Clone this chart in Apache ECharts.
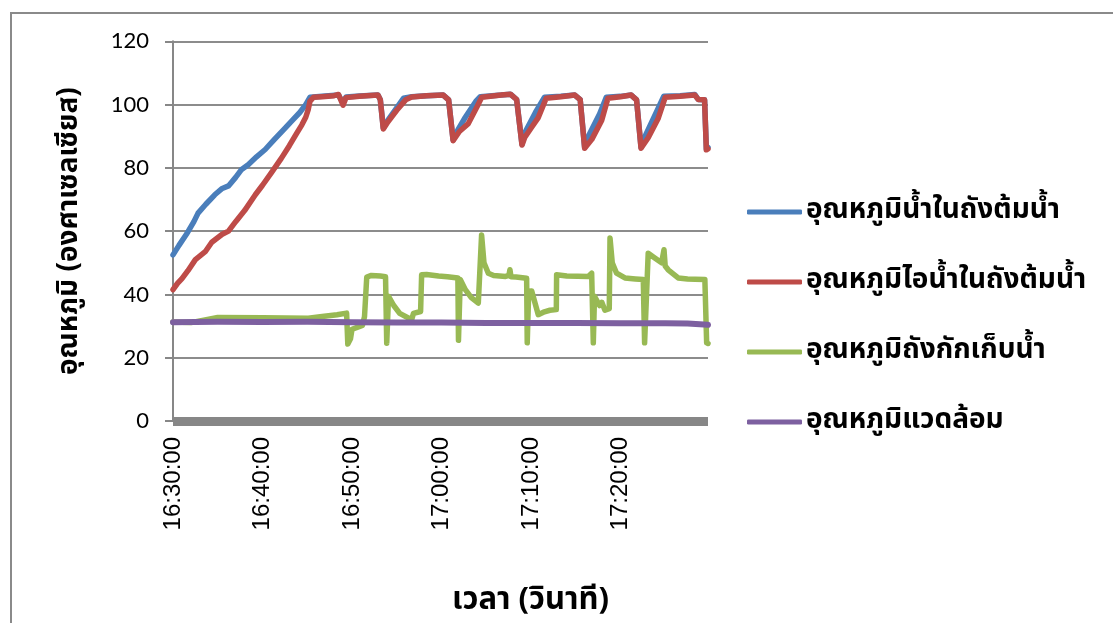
<!DOCTYPE html>
<html>
<head>
<meta charset="utf-8">
<script src="https://cdn.jsdelivr.net/npm/echarts@6/dist/echarts.min.js"></script>
<style>
html,body{margin:0;padding:0;background:#fff;}
#chart{width:1113px;height:623px;}
</style>
</head>
<body>
<div id="chart"></div>
<script>
// times are seconds after 16:30:00
const seriesNames = ['อุณหภูมิน้ำในถังต้มน้ำ','อุณหภูมิไอน้ำในถังต้มน้ำ','อุณหภูมิถังกักเก็บน้ำ','อุณหภูมิแวดล้อม'];
const xTitle = 'เวลา (วินาที)';
const yTitle = 'อุณหภูมิ (องศาเซลเซียส)';
const startHour = 16, startMin = 30;

const waterTemp = [[0,52.5],[40,55.5],[90,59],[140,63],[168,65.7],[220,68.5],[280,71.5],[330,73.5],[372,74.3],[420,77],[460,79.5],[504,81],[560,83.5],[618,85.8],[680,89],[750,92.5],[800,95],[850,97.5],[890,100],[918,102.3],[960,102.5],[1020,102.7],[1110,103],[1140,100.5],[1160,102.4],[1250,102.7],[1374,103],[1390,101.5],[1410,92.6],[1440,95],[1500,99],[1545,102],[1600,102.5],[1700,102.8],[1812,103],[1848,101.5],[1878,88.8],[1910,92],[1960,96],[2030,101],[2060,102.5],[2200,103],[2262,103.3],[2304,101.6],[2340,87.4],[2358,91],[2430,97.5],[2490,102.3],[2600,102.6],[2694,103],[2730,101.6],[2760,86.4],[2790,90.5],[2860,97],[2905,102.3],[3000,102.6],[3072,103],[3108,101.5],[3138,86.4],[3170,90.5],[3240,97.5],[3290,102.6],[3400,102.8],[3498,103.2],[3522,101.6],[3564,101.5],[3576,86],[3587,86.5]];
const steamTemp = [[0,41.5],[30,43.5],[60,45],[100,47.5],[150,51],[216,53.5],[260,56.5],[330,59],[372,60],[420,63],[480,66.5],[552,71.5],[600,74.5],[660,78.5],[726,83],[780,87],[830,91],[864,93.6],[890,96],[906,98.3],[918,101],[942,102.3],[1000,102.5],[1080,102.8],[1110,103.2],[1140,99.8],[1160,102.2],[1250,102.6],[1374,103],[1390,101.5],[1410,92.3],[1440,94.5],[1500,98.2],[1560,101.5],[1600,102.4],[1700,102.8],[1812,103],[1848,101.5],[1878,88.6],[1920,91.5],[1980,94],[2040,99.5],[2070,102.3],[2200,103],[2262,103.3],[2304,101.6],[2340,87.2],[2358,89.6],[2400,92.5],[2448,95.8],[2502,102],[2600,102.5],[2694,103],[2730,101.6],[2760,86.2],[2808,89],[2874,95],[2916,102],[3000,102.5],[3072,103],[3108,101.5],[3138,86.2],[3186,89.5],[3252,95.5],[3300,102.3],[3400,102.6],[3498,103],[3522,101.6],[3564,101.5],[3576,85.7],[3587,86]];
const tankTemp = [[0,31.3],[120,31.1],[300,32.7],[600,32.6],[907,32.5],[1000,33],[1100,33.6],[1164,34.1],[1172,24.3],[1190,26],[1200,29],[1230,29.5],[1270,30.2],[1284,33],[1294,33.5],[1299,45.5],[1330,46],[1390,45.8],[1425,45.6],[1433,24.6],[1440,25],[1445,39.4],[1480,36.5],[1520,34],[1600,32],[1612,34],[1660,34.6],[1667,46.2],[1700,46.3],[1780,45.8],[1840,45.6],[1910,45.2],[1914,25.5],[1922,26],[1926,44.7],[1960,41.5],[2000,39],[2047,37.3],[2069,58.8],[2085,50],[2114,46.7],[2150,46],[2230,45.7],[2252,46],[2259,47.8],[2266,45.6],[2300,45.5],[2371,45.1],[2375,24.7],[2385,41],[2405,41.1],[2449,33.6],[2490,34.5],[2527,35],[2570,35.2],[2572,46.2],[2640,45.8],[2784,45.7],[2807,46.7],[2818,24.7],[2826,39.4],[2860,36.5],[2875,37.5],[2896,35],[2925,35.5],[2930,57.8],[2945,50],[2974,46.7],[3030,45.2],[3100,44.9],[3153,44.7],[3162,24.7],[3186,53],[3230,51.5],[3276,50],[3292,54.1],[3300,49],[3320,47.8],[3387,45.2],[3450,44.9],[3500,44.8],[3512,45.3],[3566,44.7],[3578,24.7],[3587,24.5]];
const ambientTemp = [[0,31.2],[300,31.4],[600,31.3],[900,31.4],[1200,31.2],[1500,31.1],[1800,31.1],[2100,31],[2400,31],[2700,31],[3000,30.9],[3300,30.9],[3450,30.8],[3587,30.4]];
const colors = ['#4A7EBB','#BE4B48','#98B954','#7D60A0'];

const thaiFont = "'Noto Sans Thai','Tahoma','Leelawadee UI','DejaVu Sans','Noto Sans',sans-serif";

function fmtTime(sec){
  const total = startHour*3600 + startMin*60 + Math.round(sec);
  const h = Math.floor(total/3600), m = Math.floor((total%3600)/60), s = total%60;
  const p = n => (n<10?'0':'')+n;
  return h + ':' + p(m) + ':' + p(s);
}

const chart = echarts.init(document.getElementById('chart'), null, {renderer:'canvas'});
const data = [waterTemp, steamTemp, tankTemp, ambientTemp];
chart.setOption({
  animation:false,
  backgroundColor:'#fff',
  graphic:[{type:'rect',shape:{x:11,y:13,width:1200,height:700},style:{fill:'none',stroke:'#8a8a8a',lineWidth:2},z:-1}],
  grid:{left:173,right:405,top:41.3,bottom:201.7,containLabel:false},
  legend:{
    orient:'vertical',left:747,top:197,padding:0,itemWidth:55,itemHeight:5,itemGap:40,icon:'roundRect',
    textStyle:{fontFamily:thaiFont,fontSize:28,fontWeight:'bold',color:'#000',lineHeight:30,padding:[0,0,0,-1]},
    data:seriesNames
  },
  xAxis:{
    type:'value',min:0,max:3587,interval:600,offset:4,
    name:xTitle,nameLocation:'middle',nameGap:162,
    nameTextStyle:{fontFamily:thaiFont,fontSize:31,fontWeight:'bold',color:'#000',padding:[0,0,0,180]},
    axisLine:{show:true,lineStyle:{color:'#878787',width:9,cap:'butt'}},
    axisTick:{show:false},
    splitLine:{show:false},
    axisLabel:{rotate:90,margin:12,fontFamily:'Liberation Sans',fontSize:24,color:'#000',showMaxLabel:false,
      formatter:v => (v % 600 === 0 ? fmtTime(v) : '')}
  },
  yAxis:{
    type:'value',min:0,max:120,interval:20,
    name:yTitle,nameLocation:'middle',nameGap:88,
    nameTextStyle:{fontFamily:thaiFont,fontSize:28,fontWeight:'bold',color:'#000'},
    axisLine:{show:true,lineStyle:{color:'#878787',width:2}},
    axisTick:{show:true,inside:false,length:8,lineStyle:{color:'#878787',width:2}},
    splitLine:{show:true,lineStyle:{color:'#8c8c8c',width:2}},
    axisLabel:{margin:24,fontFamily:'Lato',fontSize:22,color:'#000'}
  },
  series:data.map((d,i)=>({
    name:seriesNames[i],type:'line',data:d,showSymbol:false,symbol:'none',
    lineStyle:{color:colors[i],width:i===3?6:5.5,cap:'round',join:'round'},
    itemStyle:{color:colors[i]}
  }))
});
</script>
</body>
</html>
